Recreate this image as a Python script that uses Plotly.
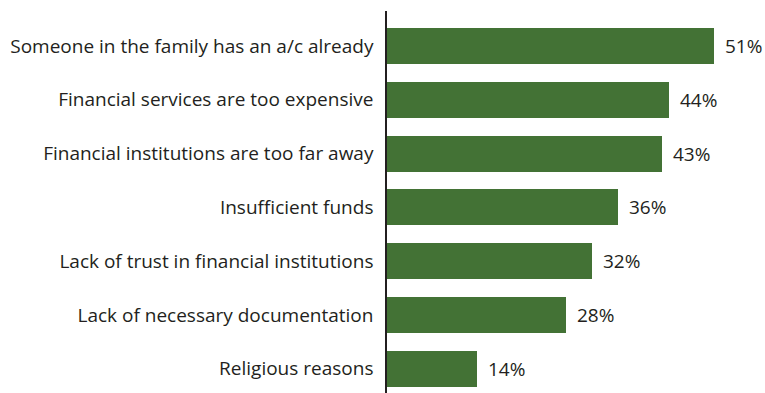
import plotly.graph_objects as go

categories = [
    "Someone in the family has an a/c already",
    "Financial services are too expensive",
    "Financial institutions are too far away",
    "Insufficient funds",
    "Lack of trust in financial institutions",
    "Lack of necessary documentation",
    "Religious reasons",
]
values = [51, 44, 43, 36, 32, 28, 14]
value_labels = [f"{v}%" for v in values]

bar_color = "#437235"
text_color = "#231f20"
font_family = "'Open Sans', sans-serif"
font_size = 19

fig = go.Figure(
    go.Bar(
        x=values,
        y=categories,
        orientation="h",
        marker=dict(color=bar_color, line=dict(width=0)),
        width=0.67,
        hoverinfo="skip",
    )
)

# value labels to the right of each bar
for cat, v, lab in zip(categories, values, value_labels):
    fig.add_annotation(
        x=v, y=cat, text=lab, showarrow=False,
        xanchor="left", yanchor="middle", xshift=9,
        font=dict(family=font_family, size=font_size, color=text_color),
    )

fig.update_layout(
    width=765, height=393,
    margin=dict(l=387, r=0, t=11, b=0),
    paper_bgcolor="white", plot_bgcolor="white",
    showlegend=False,
    font=dict(family=font_family, size=font_size, color=text_color),
    bargap=0,
)
fig.update_xaxes(range=[0, 59], visible=False, fixedrange=True)
fig.update_yaxes(
    autorange=False,
    range=[6.45, -0.65],
    type="category",
    showline=True, linecolor="#231f20", linewidth=1.5,
    showgrid=False, zeroline=False, ticks="",
    ticklabelstandoff=8,
    tickfont=dict(family=font_family, size=font_size, color=text_color),
    fixedrange=True,
)

fig.write_html("out.html")
